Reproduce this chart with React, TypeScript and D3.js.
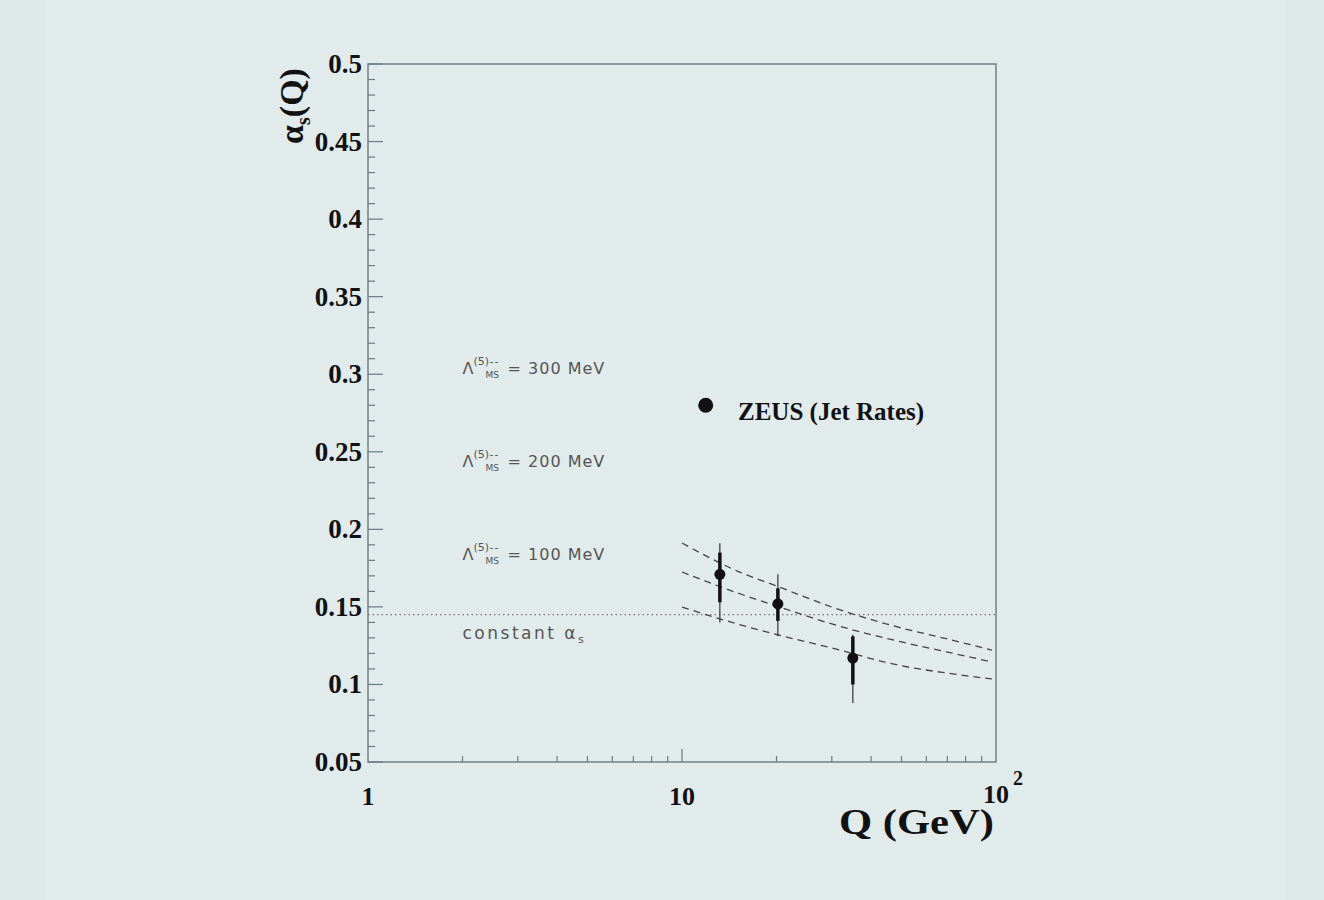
import React from 'react';
import * as d3 from 'd3';

// running alpha_s curves (Q in GeV)
const curveQ = [10, 15, 20, 30, 50, 70, 97];
const lambda300 = [0.1912, 0.1731, 0.1635, 0.1499, 0.1364, 0.1293, 0.1222];
const lambda200 = [0.1725, 0.159, 0.1506, 0.139, 0.1274, 0.1209, 0.1145];
const lambda100 = [0.1499, 0.139, 0.1322, 0.1235, 0.112, 0.1073, 0.1035];

// ZEUS jet rate points
const zeusQ = [13.2, 20.2, 35.0];
const zeusAlpha = [0.171, 0.152, 0.117];
const zeusStatLo = [0.153, 0.141, 0.1];
const zeusStatHi = [0.185, 0.162, 0.131];
const zeusTotLo = [0.14, 0.131, 0.088];
const zeusTotHi = [0.191, 0.171, 0.132];

const constantAlpha = 0.145;

const lambdaLabels = ['300', '200', '100'];
const lambdaLabelAlpha = [0.3, 0.24, 0.18];

const yTickLabels = ['0.05', '0.1', '0.15', '0.2', '0.25', '0.3', '0.35', '0.4', '0.45', '0.5'];
const xMinor = [2, 3, 4, 5, 6, 7, 8, 9, 20, 30, 40, 50, 60, 70, 80, 90];

const axisColor = '#6a7a80';
const serif = '"Liberation Serif", "Times New Roman", serif';
const sans = '"DejaVu Sans", "Liberation Sans", sans-serif';

export default function App() {
  const x = d3.scaleLog().domain([1, 100]).range([368, 996]);
  const y = d3.scaleLinear().domain([0.05, 0.5]).range([762, 64]);
  const [x0, x1] = x.range();
  const [y0, y1] = y.range();

  const line = d3.line<[number, number]>()
    .x(d => x(d[0]))
    .y(d => y(d[1]))
    .curve(d3.curveMonotoneX);

  const curves = [lambda300, lambda200, lambda100].map(vals =>
    line(curveQ.map((q, i) => [q, vals[i]] as [number, number])) || ''
  );

  const yTicks = d3.range(5, 51).map(i => ({ v: i / 100, major: i % 5 === 0 }));

  return (
    <svg width={1324} height={900} style={{ position: 'absolute', left: 0, top: 0 }}>
      <rect width={1324} height={900} fill="#e2ebec" />
      <rect x={0} y={0} width={45} height={900} fill="#d9e3e5" opacity={0.35} />
      <rect x={1285} y={0} width={39} height={900} fill="#d9e3e5" opacity={0.3} />

      {/* frame */}
      <rect x={x0} y={y1} width={x1 - x0} height={y0 - y1} fill="none" stroke={axisColor} strokeWidth={1.4} />

      {/* y ticks */}
      {yTicks.map(t => (
        <line key={'yt' + t.v} x1={x0} x2={x0 + (t.major ? 15 : 7)} y1={y(t.v)} y2={y(t.v)}
          stroke={axisColor} strokeWidth={1.2} />
      ))}
      {yTickLabels.map(l => (
        <text key={'yl' + l} x={362} y={y(+l) + 9} textAnchor="end" fontFamily={serif}
          fontWeight="bold" fontSize={27} fill="#111">{l}</text>
      ))}

      {/* x ticks */}
      {xMinor.map(v => (
        <line key={'xm' + v} x1={x(v)} x2={x(v)} y1={y0} y2={y0 - 6} stroke={axisColor} strokeWidth={1.2} />
      ))}
      <line x1={x(10)} x2={x(10)} y1={y0} y2={y0 - 13} stroke={axisColor} strokeWidth={1.2} />
      <text x={x(1)} y={805} textAnchor="middle" fontFamily={serif} fontWeight="bold" fontSize={26} fill="#111">1</text>
      <text x={x(10)} y={805} textAnchor="middle" fontFamily={serif} fontWeight="bold" fontSize={26} fill="#111">10</text>
      <text x={x(100)} y={803} textAnchor="middle" fontFamily={serif} fontWeight="bold" fontSize={26} fill="#111">10</text>
      <text x={x(100) + 22} y={785} textAnchor="middle" fontFamily={serif} fontWeight="bold" fontSize={20} fill="#111">2</text>

      {/* axis titles */}
      <text x={839} y={834} fontFamily={serif} fontWeight="bold" fontSize={35} fill="#111"
        textLength={155} lengthAdjust="spacingAndGlyphs">Q (GeV)</text>
      <text transform="translate(303,106) rotate(-90)" textAnchor="middle" fontFamily={serif}
        fontWeight="bold" fontSize={34} fill="#111">
        α<tspan fontSize={20} dy={7}>s</tspan><tspan dy={-7}>(Q)</tspan>
      </text>

      {/* constant alpha_s */}
      <line x1={x0} x2={x1} y1={y(constantAlpha)} y2={y(constantAlpha)} stroke="#777" strokeWidth={1.2}
        strokeDasharray="1.5,3" />
      <text x={x(2)} y={639} fontFamily={sans} fontSize={17} fill="#555" letterSpacing={2.5}>
        constant α<tspan fontSize={11} dy={4}>s</tspan>
      </text>

      {/* running curves */}
      {curves.map((d, i) => (
        <path key={'c' + i} d={d} fill="none" stroke="#444" strokeWidth={1.3} strokeDasharray="7,5" />
      ))}

      {/* Lambda labels */}
      {lambdaLabels.map((l, i) => {
        const bx = x(2);
        const by = y(lambdaLabelAlpha[i]);
        return (
          <g key={'lab' + l} fontFamily={sans} fill="#555">
            <text x={bx} y={by} fontSize={16}>Λ</text>
            <text x={bx + 11} y={by - 9} fontSize={11}>(5)</text>
            <text x={bx + 27} y={by - 9} fontSize={11} letterSpacing={1}>--</text>
            <text x={bx + 23} y={by + 4} fontSize={9}>MS</text>
            <text x={bx + 45} y={by} fontSize={16} letterSpacing={1}>= {l} MeV</text>
          </g>
        );
      })}

      {/* ZEUS points */}
      {zeusQ.map((q, i) => (
        <g key={'z' + i}>
          <line x1={x(q)} x2={x(q)} y1={y(zeusTotLo[i])} y2={y(zeusTotHi[i])} stroke="#333" strokeWidth={1.2} />
          <line x1={x(q)} x2={x(q)} y1={y(zeusStatLo[i])} y2={y(zeusStatHi[i])} stroke="#111" strokeWidth={3.5} />
          <circle cx={x(q)} cy={y(zeusAlpha[i])} r={5.5} fill="#111" />
        </g>
      ))}

      {/* legend */}
      <circle cx={x(11.9)} cy={y(0.28)} r={7.5} fill="#111" />
      <text x={738} y={420} fontFamily={serif} fontWeight="bold" fontSize={25} fill="#111">ZEUS (Jet Rates)</text>
    </svg>
  );
}
